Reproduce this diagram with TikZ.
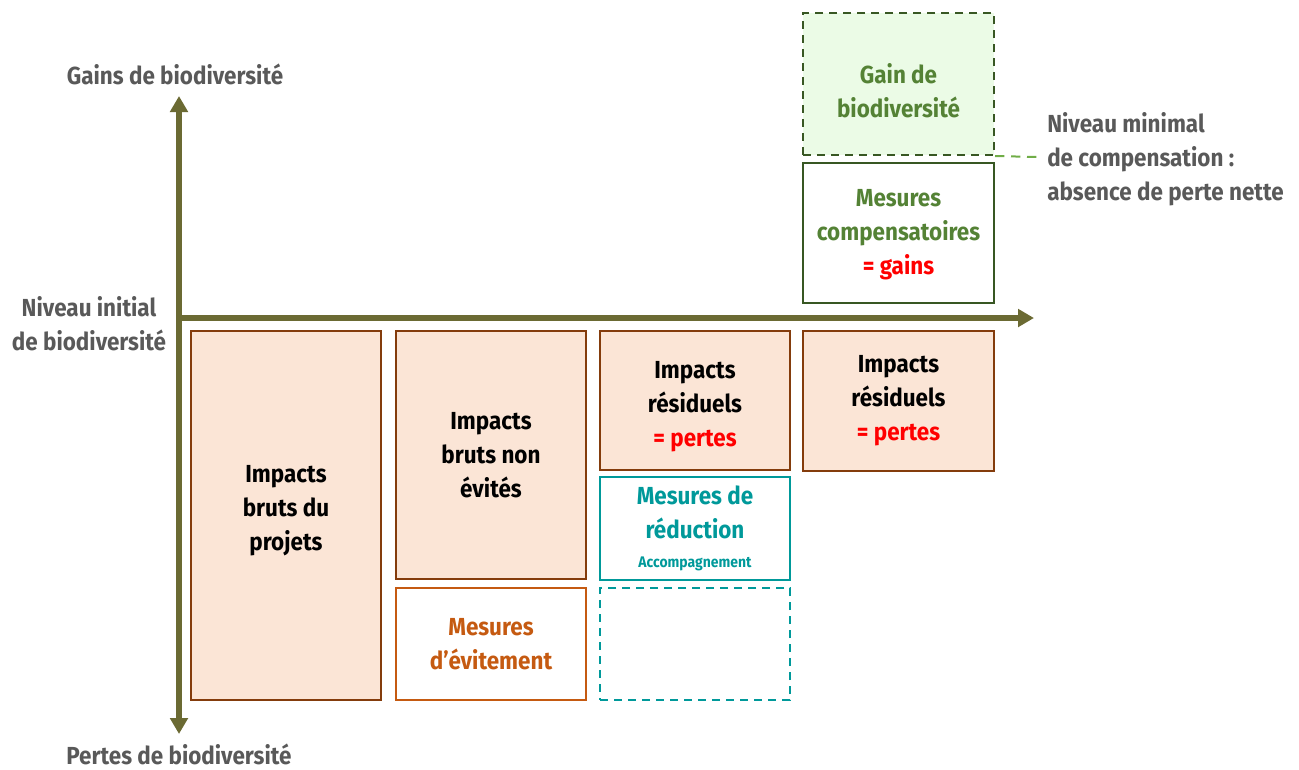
\documentclass[tikz,border=0pt]{standalone}
\usepackage{fontspec}
\setmainfont{Fira Sans}[FakeStretch=0.91]
\usetikzlibrary{arrows.meta}
\definecolor{axisc}{HTML}{6B6A33}
\definecolor{grayt}{HTML}{595959}
\definecolor{brownb}{HTML}{843C0C}
\definecolor{peach}{HTML}{FBE5D6}
\definecolor{orangeb}{HTML}{C55A11}
\definecolor{tealb}{HTML}{00999A}
\definecolor{greent}{HTML}{548235}
\definecolor{greenb}{HTML}{385723}
\definecolor{lightg}{HTML}{EBFBE6}
\definecolor{dashg}{HTML}{70AD47}
\definecolor{redt}{HTML}{FF0000}
\tikzset{
  bigfont/.style={font=\fontsize{18.5}{25.5}\selectfont\bfseries},
  box/.style={draw, line width=1.5pt, align=center, inner sep=0pt, bigfont},
  imp/.style={box, draw=brownb, fill=peach, text=black},
  boxtext/.style={align=center, inner sep=0pt, bigfont},
  lab/.style={text=grayt, bigfont, inner sep=0pt},
  axis/.style={draw=axisc, line width=3.8pt, -{Triangle[width=13pt,length=12pt]}},
}
\begin{document}
\begin{tikzpicture}[x=0.75pt,y=-0.75pt]
\useasboundingbox (0,0) rectangle (1299,769);
% boxes
\node[imp, minimum width=142.5pt, minimum height=276.75pt] (b1) at (286,515.5) {};
\node[boxtext] (b1t) at (286,511) {Impacts\\bruts du\\projets};
\node[imp, minimum width=142.5pt, minimum height=186pt] (b2) at (491,455) {Impacts\\bruts non\\évités};
\node[box, draw=orangeb, text=orangeb, minimum width=142.5pt, minimum height=84pt] (b3) at (491,644) {Mesures\\d’évitement};
\node[imp, minimum width=142.5pt, minimum height=104.25pt] (b4) at (695,400.5) {};
\node[boxtext] (b4t) at (695,407) {Impacts\\résiduels\\\textcolor{redt}{= pertes}};
\node[box, draw=tealb, text=tealb, minimum width=142.5pt, minimum height=77.25pt] (b5) at (695,528.5) {Mesures de\\réduction\\[-4pt]{\fontsize{11.5}{13}\selectfont Accompagnement}};
\node[box, draw=tealb, dashed, dash pattern=on 6pt off 4.5pt, minimum width=142.5pt, minimum height=84pt] (b6) at (695,644) {};
\node[imp, minimum width=143.25pt, minimum height=105pt] (b7) at (898.5,401) {Impacts\\résiduels\\\textcolor{redt}{= pertes}};
\node[box, draw=greenb, minimum width=143.25pt, minimum height=105pt] (b8) at (898.5,233) {};
\node[boxtext, text=greent] (b8t) at (898.5,235) {Mesures\\compensatoires\\\textcolor{redt}{= gains}};
\node[box, draw=greenb, fill=lightg, dash pattern=on 6pt off 4.5pt, minimum width=143.25pt, minimum height=106.5pt] (b9) at (898.5,84) {};
\node[boxtext, text=greent] (b9t) at (898.5,91) {Gain de\\biodiversité};
% axes
\coordinate (O) at (179,318);
\coordinate (top) at (179,96);
\coordinate (bot) at (179,734);
\coordinate (right) at (1034,318);
\draw[axis] (O) -- (top);
\draw[axis] (O) -- (bot);
\draw[axis] (O) -- (right);
% niveau minimal
\coordinate (nm) at (1037,157);
\draw[dashg, line width=1.5pt, dash pattern=on 7pt off 5pt] (b9.south east) -- (nm);
% labels
\node[lab] (gl) at (175,74) {Gains de biodiversité};
\node[lab, align=center] (il) at (89,324) {Niveau initial\\de biodiversité};
\node[lab, anchor=base] (pl) at (179,764) {Pertes de biodiversité};
\node[lab, align=left, anchor=west] (nl) at (1047,159) {Niveau minimal\\de compensation :\\absence de perte nette};
\end{tikzpicture}
\end{document}
